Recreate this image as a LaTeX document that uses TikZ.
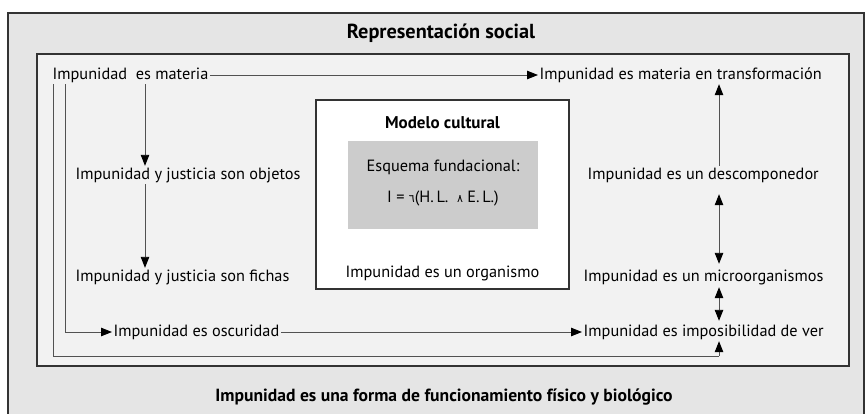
\documentclass[tikz,border=0pt]{standalone}
\usepackage{fontspec}
\setmainfont{PT Sans}
\newfontfamily\dejavu{DejaVu Sans}
\usetikzlibrary{arrows.meta}
\definecolor{outerbg}{HTML}{E5E5E5}
\definecolor{innerbg}{HTML}{F2F2F2}
\definecolor{schemebg}{HTML}{CCCCCC}
\definecolor{frame}{HTML}{333333}
\begin{document}
\begin{tikzpicture}[x=1pt,y=-1pt,
  lbl/.style={inner sep=1.5pt, text height=11.5pt, text depth=3.5pt, font=\fontsize{16.3}{18}\selectfont},
  ttl/.style={inner sep=1.5pt, font=\fontsize{20.3}{23}\selectfont\bfseries},
  boxframe/.style={draw=frame, line width=1.2pt},
  conn/.style={draw=frame!85, line width=0.9pt},
  tip/.style={},
  arr/.style={conn, -{Triangle[length=11pt,width=8.5pt,fill=black,color=black]}},
  arrb/.style={conn, {Triangle[length=11pt,width=8.5pt,fill=black,color=black]}-{Triangle[length=11pt,width=8.5pt,fill=black,color=black]}}]
\useasboundingbox (0,0) rectangle (866,413);
\fill[white] (0,0) rectangle (866,413);
\begin{scope}
\clip (0,0) rectangle (866,413);
\draw[boxframe, fill=outerbg] (8,13) rectangle (864,430);
\end{scope}
\draw[boxframe, fill=innerbg] (37,54) rectangle (849,366);
\node[ttl] (rep) at (441,33) {Representación social};
\node[ttl, font=\fontsize{17.6}{20}\selectfont\bfseries] (fis) at (444,397) {Impunidad es una forma de funcionamiento físico y biológico};
% cultural model
\draw[boxframe, fill=white] (316,100) rectangle (569,289);
\fill[schemebg] (348,141) rectangle (538,229);
\node[ttl, font=\fontsize{17}{20}\selectfont\bfseries] (mod) at (442.5,123) {Modelo cultural};
\node[lbl] (esq) at (443,167) {Esquema fundacional:};
\node[lbl] (form) at (443,198) {I = {\dejavu\fontsize{11}{12}\selectfont ٦}(H.\,L.\ \ {\dejavu\fontsize{11}{12}\selectfont ٨} E.\,L.)};
\node[lbl] (org) at (442.5,273) {Impunidad es un organismo};
% labels
\node[lbl, anchor=west] (mat) at (51,75) {Impunidad\ \ es materia};
\node[lbl, anchor=west] (matT) at (538,75) {Impunidad es materia en transformación};
\node[lbl, anchor=west] (obj) at (74,175) {Impunidad y justicia son objetos};
\node[lbl, anchor=west] (fich) at (74,277) {Impunidad y justicia son fichas};
\node[lbl, anchor=west] (osc) at (112,332) {Impunidad es oscuridad};
\node[lbl, anchor=west] (imp) at (582,332) {Impunidad es imposibilidad de ver};
\node[lbl, anchor=west] (desc) at (586,175) {Impunidad es un descomponedor};
\node[lbl, anchor=west] (micro) at (582,277) {Impunidad es un microorganismos};
% helper x positions
\coordinate (xA) at (53,0);
\coordinate (xB) at (65,0);
\coordinate (xC) at (145,0);
\coordinate (xR) at (719,0);
\coordinate (bl) at (719,356);
% connectors
\draw[arr] (mat) -- (matT);
\draw[arr] (osc) -- (imp);
\draw[conn] (mat.south -| xA) |- (bl);
\draw[arr] (bl) -- (imp.south -| bl);
\draw[arr] (mat.south -| xB) |- (osc.west);
\draw[arr] (mat.south -| xC) -- (obj.north -| xC);
\draw[arr] (obj.south -| xC) -- (fich.north -| xC);
\draw[arr] (desc.north -| xR) -- (matT.south -| xR);
\draw[arrb, shorten <=10pt, shorten >=4pt] (desc.south -| xR) -- (micro.north -| xR);
\draw[arrb, shorten <=1pt, shorten >=2pt] (micro.south -| xR) -- (imp.north -| xR);
\end{tikzpicture}
\end{document}
